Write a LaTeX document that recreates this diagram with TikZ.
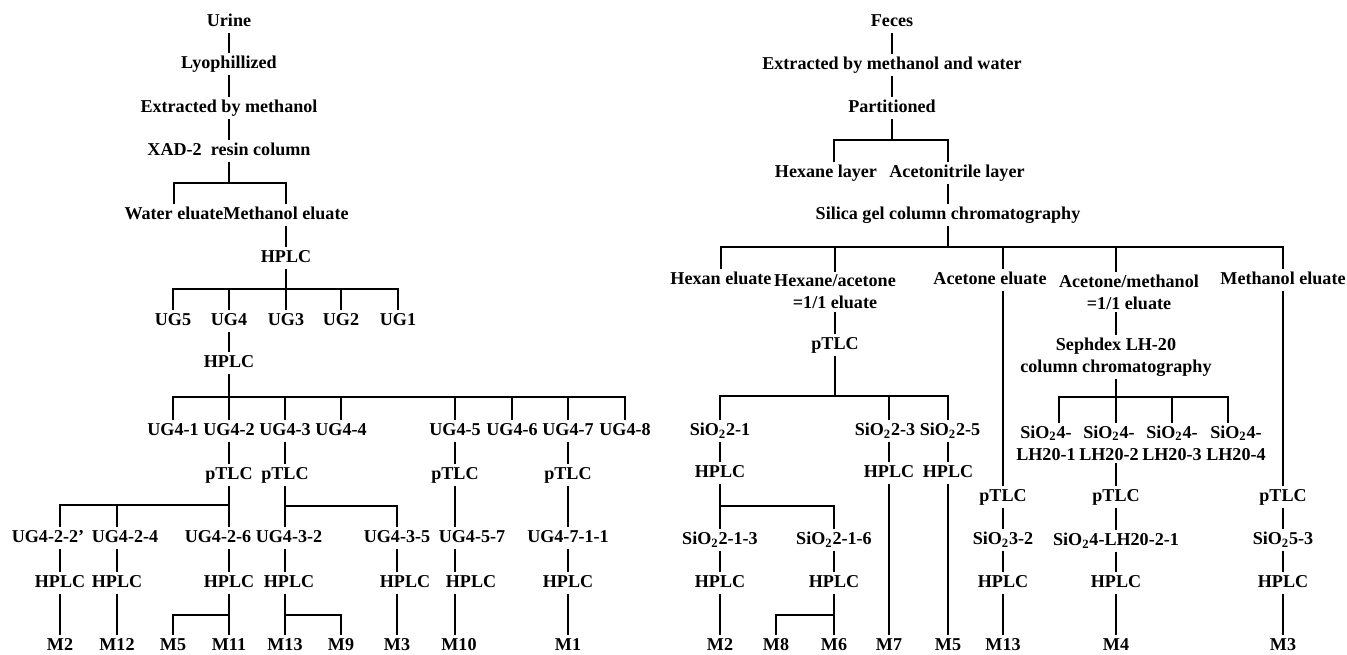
\documentclass[tikz,border=0pt]{standalone}
\usepackage{fontspec}
\setmainfont{Liberation Serif}
\tikzset{
  nd/.style={font=\fontsize{10.3}{12.5}\selectfont\bfseries,inner sep=1.5pt,
    text height=7pt,text depth=2pt},
  ndd/.style={font=\fontsize{10.3}{12.5}\selectfont\bfseries,inner sep=1.5pt,
    align=center},
  tl/.style={line width=0.6pt,black},
}
\begin{document}
\begin{tikzpicture}[x=0.02cm,y=-0.02cm]
  \useasboundingbox (0,0) rectangle (1347,654);
  % urine
  \node[nd] (urine) at (229,22) {Urine};
  \node[nd] (lyo) at (229,64) {Lyophillized};
  \node[nd] (extm) at (229,108) {Extracted by methanol};
  \node[nd] (xad) at (229,151) {XAD-2\ \ resin column};
  \node[nd] (wel) at (174,215) {Water eluate};
  \node[nd] (mel) at (286,215) {Methanol eluate};
  \node[nd] (hp0) at (286,258) {HPLC};
  \foreach \n/\x in {5/173,4/229,3/286,2/341,1/398}
    \node[nd] (ug\n) at (\x,321) {UG\n};
  \node[nd] (hp4) at (229,363) {HPLC};
  \foreach \n/\x in {1/173,2/229,3/285,4/341,5/455,6/512,7/568,8/625}
    \node[nd] (u4\n) at (\x,431) {UG4-\n};
  \foreach \n/\x in {2/229,3/285,5/455,7/568}
    \node[nd] (pt4\n) at (\x,475) {pTLC};
  \node[nd] (u422) at (48,538) {UG4-2-2'};
  \node[nd] (u424) at (125,538) {UG4-2-4};
  \node[nd] (u426) at (218,538) {UG4-2-6};
  \node[nd] (u432) at (289,538) {UG4-3-2};
  \node[nd] (u435) at (397,538) {UG4-3-5};
  \node[nd] (u457) at (472,538) {UG4-5-7};
  \node[nd] (u4711) at (568,538) {UG4-7-1-1};
  \foreach \nm/\x in {422/60,424/117,426/229,432/289,435/405,457/471,4711/568}
    \node[nd] (h\nm) at (\x,583) {HPLC};
  \foreach \nm/\x in {2/60,12/117,5/173,11/229,13/285,9/341,3/397,10/459,1/568}
    \node[nd] (ml\nm) at (\x,646) {M\nm};

  \draw[tl] (urine) -- (lyo);
  \draw[tl] (lyo) -- (extm);
  \draw[tl] (extm) -- (xad);
  \coordinate (jx) at (229,183);
  \draw[tl] (xad) -- (jx);
  \draw[tl] (wel) |- (jx) -| (mel);
  \draw[tl] (mel) -- (hp0);
  \coordinate (jh0) at (286,289);
  \draw[tl] (hp0) -- (ug3);
  \draw[tl] (ug5) |- (jh0) -| (ug1);
  \foreach \n in {4,2} \draw[tl] (jh0 -| ug\n) -- (ug\n);
  \draw[tl] (ug4) -- (hp4);
  \coordinate (jh4) at (229,397);
  \draw[tl] (hp4) -- (u42);
  \draw[tl] (u41) |- (jh4) -| (u48);
  \foreach \n in {3,4,5,6,7} \draw[tl] (jh4 -| u4\n) -- (u4\n);
  \foreach \n in {2,3,5,7} \draw[tl] (u4\n) -- (pt4\n);
  % pTLC of UG4-2
  \coordinate (jt2) at (229,505);
  \draw[tl] (pt42) -- (h426 |- u426.north);
  \draw[tl] (jt2) -| (h422 |- u422.north);
  \draw[tl] (jt2 -| h424) -- (h424 |- u424.north);
  \foreach \nm in {422,424,426} \draw[tl] (h\nm |- u\nm.south) -- (h\nm);
  % pTLC of UG4-3
  \coordinate (jt3) at (285,506);
  \draw[tl] (pt43) -- (pt43 |- u432.north);
  \draw[tl] (jt3) -| (u435);
  \draw[tl] (pt43 |- u432.south) -- (pt43 |- h432.north);
  \draw[tl] (u435) -- (u435 |- h435.north);
  \draw[tl] (u435 |- h435.south) -- (ml3);
  % UG4-5 and UG4-7
  \draw[tl] (pt45) -- (pt45 |- u457.north);
  \draw[tl] (pt45 |- u457.south) -- (pt45 |- h457.north);
  \draw[tl] (pt45 |- h457.south) -- (pt45 |- ml10.north);
  \draw[tl] (pt47) -- (u4711);
  \draw[tl] (u4711) -- (h4711);
  \draw[tl] (h4711) -- (ml1);
  % metabolites
  \draw[tl] (h422) -- (ml2);
  \draw[tl] (h424) -- (ml12);
  \coordinate (jm1) at (229,615);
  \draw[tl] (h426) -- (ml11);
  \draw[tl] (jm1) -| (ml5);
  \coordinate (jm2) at (285,615);
  \draw[tl] (ml13 |- h432.south) -- (ml13);
  \draw[tl] (jm2) -| (ml9);

  % feces
  \node[nd] (feces) at (892,22) {Feces};
  \node[nd] (extw) at (892,65) {Extracted by methanol and water};
  \node[nd] (part) at (892,108) {Partitioned};
  \node[nd] (hexl) at (826,173) {Hexane layer};
  \node[nd] (acnl) at (957,173) {Acetonitrile layer};
  \node[nd] (silica) at (948,215) {Silica gel column chromatography};
  \node[nd] (hexel) at (721,280) {Hexan eluate};
  \node[ndd] (hxac) at (835,292) {Hexane/acetone\\=1/1 eluate};
  \node[nd] (aceel) at (990,280) {Acetone eluate};
  \node[ndd] (acme) at (1129,292) {Acetone/methanol\\=1/1 eluate};
  \node[nd] (meel) at (1283,280) {Methanol eluate};
  \node[nd] (pt1) at (835,345) {pTLC};
  \node[ndd] (seph) at (1116,357) {Sephdex LH-20\\column chromatography};
  \node[nd] (s21) at (720,431) {SiO\textsubscript{2}2-1};
  \node[nd] (s23) at (885,431) {SiO\textsubscript{2}2-3};
  \node[nd] (s25) at (950,431) {SiO\textsubscript{2}2-5};
  \foreach \n/\x in {1/1046,2/1109,3/1172,4/1236}
    \node[ndd] (lh\n) at (\x,443) {SiO\textsubscript{2}4-\\LH20-\n};
  \foreach \nm/\x in {21/720,23/889,25/948}
    \node[nd] (hs\nm) at (\x,473) {HPLC};
  \foreach \nm/\x in {3/1003,4/1116,5/1283}
    \node[nd] (pf\nm) at (\x,497) {pTLC};
  \node[nd] (s213) at (720,540) {SiO\textsubscript{2}2-1-3};
  \node[nd] (s216) at (834,540) {SiO\textsubscript{2}2-1-6};
  \node[nd] (s32) at (1003,540) {SiO\textsubscript{2}3-2};
  \node[nd] (s4) at (1116,541) {SiO\textsubscript{2}4-LH20-2-1};
  \node[nd] (s53) at (1283,540) {SiO\textsubscript{2}5-3};
  \foreach \nm/\x in {213/720,216/834,32/1003,4/1116,53/1283}
    \node[nd] (hs\nm) at (\x,583) {HPLC};
  \foreach \nm/\x in {2/720,8/776,6/834,7/889,5/948,13/1003,4/1116,3/1283}
    \node[nd] (mr\nm) at (\x,646) {M\nm};

  \draw[tl] (feces) -- (extw);
  \draw[tl] (extw) -- (part);
  \coordinate (jp) at (892,140);
  \coordinate (xhl) at (834,140);
  \coordinate (xal) at (948,140);
  \draw[tl] (part) -- (jp);
  \draw[tl] (xhl |- hexl.north) -- (xhl) -- (xal) -- (xal |- acnl.north);
  \draw[tl] (xal |- acnl.south) -- (silica);
  \coordinate (js) at (948,247);
  \draw[tl] (silica) -- (js);
  \draw[tl] (hexel) |- (js) -| (meel);
  \draw[tl] (js -| hxac) -- (hxac);
  \coordinate (xae) at (1003,247);
  \coordinate (xam) at (1116,247);
  \draw[tl] (xae) -- (xae |- aceel.north);
  \draw[tl] (xam) -- (xam |- acme.north);
  \draw[tl] (xae |- aceel.south) -- (pf3);
  \draw[tl] (xam |- acme.south) -- (seph);
  \draw[tl] (meel) -- (pf5);
  \draw[tl] (hxac) -- (pt1);
  % pTLC of hexane/acetone eluate
  \coordinate (jt) at (835,396);
  \draw[tl] (pt1) -- (jt);
  \draw[tl] (s21) |- (jt) -| (hs25 |- s25.north);
  \draw[tl] (jt -| hs23) -- (hs23 |- s23.north);
  \draw[tl] (s21) -- (hs21);
  \draw[tl] (hs23 |- s23.south) -- (hs23);
  \draw[tl] (hs25 |- s25.south) -- (hs25);
  \draw[tl] (hs23) -- (mr7);
  \draw[tl] (hs25) -- (mr5);
  \coordinate (jh21) at (720,506);
  \draw[tl] (hs21) -- (s213);
  \draw[tl] (jh21) -| (s216);
  \draw[tl] (s213) -- (hs213);
  \draw[tl] (s216) -- (hs216);
  \draw[tl] (hs213) -- (mr2);
  \coordinate (jh216) at (834,615);
  \draw[tl] (hs216) -- (mr6);
  \draw[tl] (jh216) -| (mr8);
  % Sephdex
  \coordinate (jl) at (1116,397);
  \coordinate (xl1) at (1059,397);
  \coordinate (xl3) at (1172,397);
  \coordinate (xl4) at (1228,397);
  \draw[tl] (seph) -- (jl);
  \draw[tl] (xl1 |- lh1.north) -- (xl1) -- (xl4) -- (xl4 |- lh4.north);
  \draw[tl] (jl) -- (jl |- lh2.north);
  \draw[tl] (xl3) -- (xl3 |- lh3.north);
  \draw[tl] (pf4 |- lh2.south) -- (pf4);
  \draw[tl] (pf4) -- (s4);
  \draw[tl] (s4) -- (hs4);
  \draw[tl] (hs4) -- (mr4);
  % acetone and methanol eluates
  \draw[tl] (pf3) -- (s32);
  \draw[tl] (s32) -- (hs32);
  \draw[tl] (hs32) -- (mr13);
  \draw[tl] (pf5) -- (s53);
  \draw[tl] (s53) -- (hs53);
  \draw[tl] (hs53) -- (mr3);
\end{tikzpicture}
\end{document}
